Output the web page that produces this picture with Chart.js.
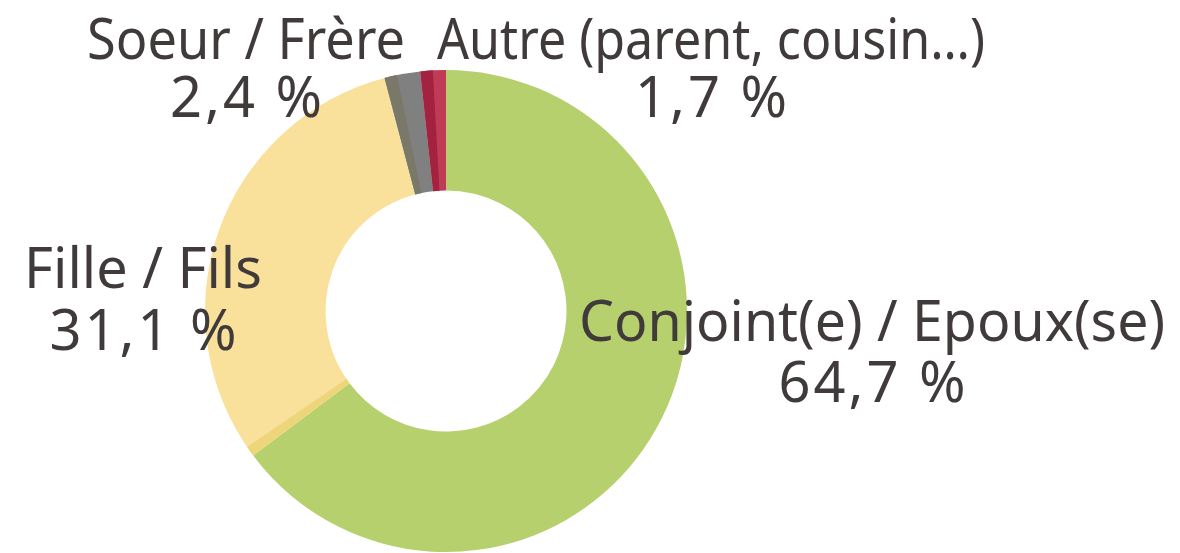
<!DOCTYPE html>
<html>
<head>
<meta charset="utf-8">
<script src="https://cdn.jsdelivr.net/npm/chart.js@4/dist/chart.umd.min.js"></script>
<style>
  html, body { margin: 0; padding: 0; background: #fff; }
  #wrap { width: 1180px; height: 553px; }
</style>
</head>
<body>
<div id="wrap"><canvas id="donut"></canvas></div>
<script>
// data
var categories = ['Conjoint(e) / Epoux(se)', 'Fille / Fils', 'Soeur / Frère', 'Autre (parent, cousin…)'];
var shares = [64.7, 31.1, 2.4, 1.7];

// colours: main fill and the darker strip at the start of each slice
var fills = ['#B5D06C', '#F9E19B', '#808080', '#BF3B56'];
var shades = [null, '#EDD67A', '#7A7868', '#A3223F'];
var shadeDeg = [0, 2.5, 3, 3];

// where each label sits (centre x, baseline of name, baseline of value, max width of name)
var labelPos = [
    [872, 341, 402, 586],
    [143, 288, 350, 238],
    [246, 59, 117, 318],
    [711, 59, 117, 548]
];

function pct(v) {
    return v.toFixed(1).replace('.', ',') + ' %';
}

var shadePlugin = {
    id: 'shade',
    afterDatasetsDraw: function(chart) {
        var c = chart.ctx;
        var arcs = chart.getDatasetMeta(0).data;
        arcs.forEach(function(arc, i) {
            if (!shades[i]) return;
            var p = arc.getProps(['x', 'y', 'startAngle', 'endAngle', 'innerRadius', 'outerRadius'], true);
            var a0 = p.startAngle;
            var a1 = Math.min(p.endAngle, a0 + shadeDeg[i] * Math.PI / 180);
            c.save();
            c.beginPath();
            c.arc(p.x, p.y, p.outerRadius, a0, a1);
            c.arc(p.x, p.y, p.innerRadius, a1, a0, true);
            c.closePath();
            c.fillStyle = shades[i];
            c.fill();
            c.restore();
        });
    }
};

var labelPlugin = {
    id: 'sliceLabels',
    afterDraw: function(chart) {
        var c = chart.ctx;
        c.save();
        c.fillStyle = '#403B3A';
        c.font = '56px "Noto Sans"';
        c.textAlign = 'center';
        c.textBaseline = 'alphabetic';
        categories.forEach(function(name, i) {
            var pos = labelPos[i];
            c.letterSpacing = '0px';
            c.fillText(name, pos[0], pos[1], pos[3]);
            // the percentages are a little more spread out
            c.letterSpacing = '3px';
            c.fillText(pct(shares[i]), pos[0] + 1.5, pos[2]);
        });
        c.restore();
    }
};

var ctx = document.getElementById('donut').getContext('2d');
var chart = new Chart(ctx, {
    type: 'doughnut',
    data: {
        labels: categories,
        datasets: [{
            data: shares,
            backgroundColor: fills,
            borderWidth: 0
        }]
    },
    options: {
        responsive: true,
        maintainAspectRatio: false,
        animation: false,
        cutout: '50%',
        layout: { padding: { top: 70, bottom: 1, left: 0, right: 288 } },
        plugins: {
            legend: { display: false },
            tooltip: { enabled: false }
        }
    },
    plugins: [shadePlugin, labelPlugin]
});
</script>
</body>
</html>
